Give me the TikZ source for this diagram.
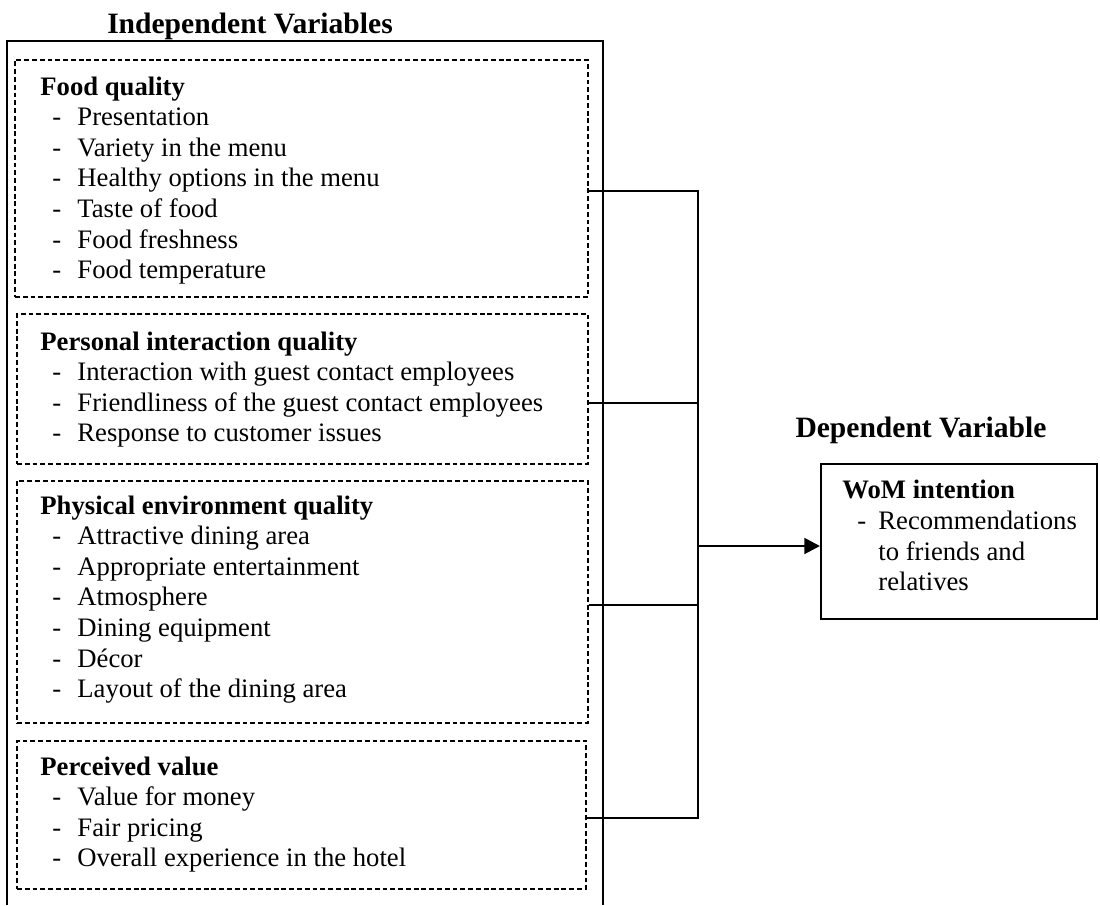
\documentclass[tikz,border=0pt]{standalone}
\usepackage{fontspec}
\setmainfont{Liberation Serif}
\usetikzlibrary{fit}
\usetikzlibrary{arrows.meta}
\newdimen\px \px=0.45pt

\begin{document}
\begin{tikzpicture}
[x=\px,y=-\px,%
  txt/.style={anchor=base west,inner sep=0pt,font=\fontsize{12}{14}\selectfont},%
  head/.style={txt,font=\fontsize{12}{14}\selectfont\bfseries},%
  title/.style={anchor=base,inner sep=0pt,font=\fontsize{13.3}{16}\selectfont\bfseries},%
  grp/.style={draw,line width=0.7pt,dash pattern=on 2.2pt off 1.3pt,inner sep=0pt,fit={#1}},%
  wombox/.style={draw,line width=0.9pt,inner sep=0pt,fit={#1}},%
  wire/.style={line width=0.5pt},%
  arr/.style={line width=1.3pt,-{Triangle[length=7pt,width=7pt]}}]
\useasboundingbox (0,0) rectangle (1100,905);
% titles
\node[title] (ivt) at (250,33) {Independent Variables};
\node[title] (dvt) at (921,437) {Dependent Variable};
% outer frame, open at the bottom
\draw[line width=0.9pt] (7,905) |- (603,41) -- (603,905);
% groups of items
\node[grp={(15,60) (588,297)}] (fq) {};
\node[grp={(17,314) (588,464)}] (pi) {};
\node[grp={(17,481) (588,723)}] (pe) {};
\node[grp={(17,741) (586,889)}] (pv) {};
\node[head] (fq-h) at (40,95) {Food quality};
\foreach \t [count=\i] in {Presentation,Variety in the menu,Healthy options in the menu,%
  Taste of food,Food freshness,Food temperature}
  \node[txt] (fq-\i) at (52,95+30.6*\i) {\makebox[25\px][l]{-}\t};
\node[head] (pi-h) at (40,350) {Personal interaction quality};
\foreach \t [count=\i] in {Interaction with guest contact employees,%
  Friendliness of the guest contact employees,Response to customer issues}
  \node[txt] (pi-\i) at (52,350+30.6*\i) {\makebox[25\px][l]{-}\t};
\node[head] (pe-h) at (40,514) {Physical environment quality};
\foreach \t [count=\i] in {Attractive dining area,Appropriate entertainment,Atmosphere,%
  Dining equipment,Décor,Layout of the dining area}
  \node[txt] (pe-\i) at (52,514+30.6*\i) {\makebox[25\px][l]{-}\t};
\node[head] (pv-h) at (40,775) {Perceived value};
\foreach \t [count=\i] in {Value for money,Fair pricing,Overall experience in the hotel}
  \node[txt] (pv-\i) at (52,775+30.6*\i) {\makebox[25\px][l]{-}\t};
% dependent variable
\node[wombox={(821,464) (1097,619)}] (wom) {};
\node[head] (wom-h) at (842,498) {WoM intention};
\node[txt] (wom-1) at (857,529) {\makebox[21\px][l]{-}Recommendations};
\node[txt] (wom-2) at (878,560) {to friends and};
\node[txt] (wom-3) at (878,590) {relatives};
% connectors
\coordinate (b1) at (698,191);
\coordinate (b2) at (698,403);
\coordinate (b3) at (698,605);
\coordinate (b4) at (698,818);
\coordinate (b0) at (698,546);
\draw[wire] (fq.east |- b1) -- (b1) -- (b4) -- (pv.east |- b4);
\draw[wire] (pi.east |- b2) -- (b2);
\draw[wire] (pe.east |- b3) -- (b3);
\draw[arr] (b0) -- (b0 -| wom.west);
\end{tikzpicture}
\end{document}
